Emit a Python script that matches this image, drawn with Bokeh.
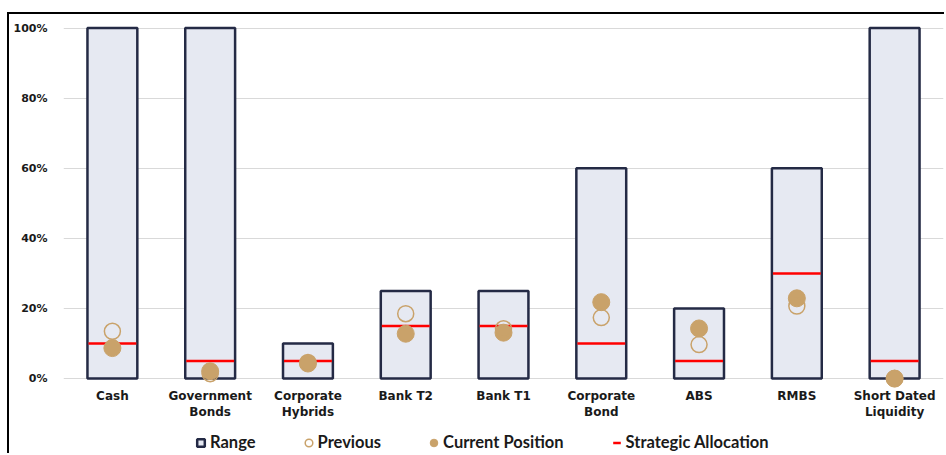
from bokeh.plotting import figure
from bokeh.models import (FactorRange, Range1d, FixedTicker, NumeralTickFormatter,
                          Legend, LegendItem, ColumnDataSource)
from bokeh.transform import dodge
from bokeh.embed import file_html
from bokeh.resources import INLINE

categories = ["Cash", "Government\nBonds", "Corporate\nHybrids", "Bank T2", "Bank T1",
              "Corporate\nBond", "ABS", "RMBS", "Short Dated\nLiquidity"]
range_min = [0, 0, 0, 0, 0, 0, 0, 0, 0]
range_max = [1.00, 1.00, 0.10, 0.25, 0.25, 0.60, 0.20, 0.60, 1.00]
strategic = [0.10, 0.05, 0.05, 0.15, 0.15, 0.10, 0.05, 0.30, 0.05]
previous = [0.135, 0.014, 0.046, 0.185, 0.142, 0.174, 0.097, 0.207, 0.0]
current = [0.087, 0.021, 0.043, 0.128, 0.131, 0.218, 0.143, 0.229, 0.0]
y_ticks = [0, 0.2, 0.4, 0.6, 0.8, 1.0]

src = ColumnDataSource(dict(cat=categories, rmin=range_min, rmax=range_max,
                            strat=strategic, prev=previous, cur=current))

NAVY = "#242a45"
FILL = "#e6e9f2"
GOLD = "#c9a26a"
RED = "#ff0000"

p = figure(width=937, height=441, x_range=FactorRange(*categories, range_padding=0, factor_padding=0),
           y_range=Range1d(-0.2194, 1.01), output_backend="svg", toolbar_location=None,
           min_border_left=54, min_border_right=3, min_border_top=10, min_border_bottom=0,
           margin=(12, 0, 0, 7))
p.styles = {"border-top": "2px solid #000", "border-left": "2px solid #000"}
p.outline_line_color = None
p.background_fill_color = "white"

bars = p.vbar(x="cat", bottom="rmin", top="rmax", width=0.51, source=src,
              fill_color=FILL, line_color=NAVY, line_width=2.5)
strat = p.segment(x0=dodge("cat", -0.245, range=p.x_range), x1=dodge("cat", 0.245, range=p.x_range),
                  y0="strat", y1="strat", source=src, line_color=RED, line_width=2.5)
cur = p.scatter(x="cat", y="cur", source=src, size=17, marker="circle",
                fill_color=GOLD, line_color=GOLD, line_width=1)
prev = p.scatter(x="cat", y="prev", source=src, size=16, marker="circle",
                 fill_color=None, line_color=GOLD, line_width=1.5)

# legend swatches (hidden in the plot, drawn only as legend keys)
range_key = p.scatter(x="cat", y="rmax", source=src, marker="square", size=12,
                      fill_color=FILL, line_color=NAVY, line_width=2.5, visible=False)
strat_key = p.scatter(x="cat", y="strat", source=src, marker="dash", size=12,
                      line_color=RED, line_width=2.5, visible=False)

p.xgrid.grid_line_color = None
p.ygrid.ticker = FixedTicker(ticks=y_ticks)
p.ygrid.grid_line_color = "#d9d9d9"
p.ygrid.grid_line_width = 1

p.yaxis.ticker = FixedTicker(ticks=y_ticks)
p.yaxis.formatter = NumeralTickFormatter(format="0%")
for ax in (p.xaxis, p.yaxis):
    ax.axis_line_color = None
    ax.major_tick_line_color = None
    ax.minor_tick_line_color = None
    ax.major_label_text_font = "DejaVu Sans"
    ax.major_label_text_font_style = "bold"
    ax.major_label_text_color = "#1a1a1a"
p.yaxis.major_label_standoff = 10
p.yaxis.major_label_text_font_size = "11px"
p.xaxis.major_label_text_font_size = "12px"
p.xaxis.major_label_standoff = 4
p.xaxis.fixed_location = 0

legend = Legend(items=[LegendItem(label="Range", renderers=[range_key]),
                       LegendItem(label="Previous", renderers=[prev]),
                       LegendItem(label="Current Position", renderers=[cur]),
                       LegendItem(label="Strategic Allocation", renderers=[strat_key])],
                orientation="horizontal", location=(128, 3), border_line_color=None,
                background_fill_alpha=0, padding=0, margin=0, spacing=43,
                glyph_width=19, glyph_height=19, label_standoff=0,
                inactive_fill_alpha=0,
                label_text_font="Lato", label_text_font_style="bold",
                label_text_font_size="16.5px", label_text_color="#1a1a1a")
p.add_layout(legend)

open("out.html", "w").write(file_html(p, INLINE))
